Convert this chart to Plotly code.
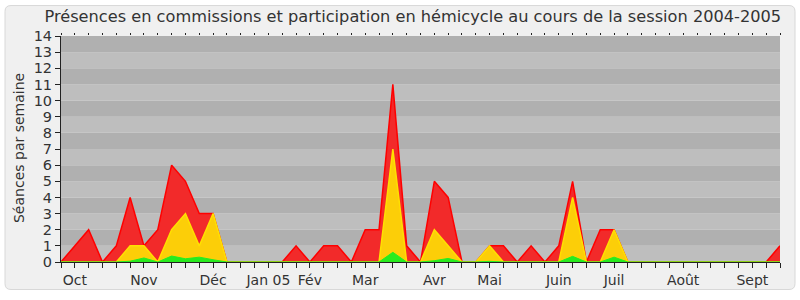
import plotly.graph_objects as go

weeks = list(range(53))
commission = [0, 1, 2, 0, 1, 4, 1, 2, 6, 5, 3, 3, 0, 0, 0, 0, 0, 1, 0, 1, 1, 0, 2, 2, 11, 1,
              0, 5, 4, 0, 0, 1, 1, 0, 1, 0, 1, 5, 0, 2, 2, 0, 0, 0, 0, 0, 0, 0, 0, 0, 0, 0, 1]
hemicycle = [0, 0, 0, 0, 0, 1, 1, 0, 2, 3, 1, 3, 0, 0, 0, 0, 0, 0, 0, 0, 0, 0, 0, 0, 7, 0,
             0, 2, 1, 0, 0, 1, 0, 0, 0, 0, 0, 4, 0, 0, 2, 0, 0, 0, 0, 0, 0, 0, 0, 0, 0, 0, 0]
interventions = [0, 0, 0, 0, 0, 0.05, 0.25, 0, 0.37, 0.2, 0.3, 0.14, 0, 0, 0, 0, 0, 0, 0, 0, 0, 0, 0, 0, 0.6, 0,
                 0, 0.08, 0.22, 0, 0, 0.04, 0, 0, 0, 0, 0, 0.35, 0, 0, 0.3, 0, 0, 0, 0, 0, 0, 0, 0, 0, 0, 0, 0]
month_pos = [1, 6, 11, 15, 18, 22, 27, 31, 36, 40, 45, 50]
month_labels = ["Oct", "Nov", "Déc", "Jan 05", "Fév", "Mar", "Avr", "Mai", "Juin", "Juil", "Août", "Sept"]
y_ticks = list(range(15))

ticktext = []
for w in weeks:
    ticktext.append(month_labels[month_pos.index(w)] if w in month_pos else "")

FONT = "DejaVu Sans"
TXT = "#333333"

fig = go.Figure()
fig.add_trace(go.Scatter(x=weeks, y=commission, mode="lines", fill="tozeroy",
                         line=dict(color="#ff0000", width=1.5), fillcolor="rgb(242,42,42)",
                         hoverinfo="skip"))
fig.add_trace(go.Scatter(x=weeks, y=hemicycle, mode="lines", fill="tozeroy",
                         line=dict(color="#ffe000", width=1.5), fillcolor="rgb(252,206,8)",
                         hoverinfo="skip"))
fig.add_trace(go.Scatter(x=weeks, y=interventions, mode="lines", fill="tozeroy",
                         line=dict(color="#22ee22", width=1), fillcolor="rgb(40,235,30)",
                         hoverinfo="skip"))
fig.add_trace(go.Scatter(x=[0], y=[0], xaxis="x2", mode="markers",
                         marker=dict(opacity=0), hoverinfo="skip"))

L, R, T, B = 61, 780, 36, 266
W, H = 800, 300
def px(xp):
    return (xp - L) / (R - L)
def py(yp):
    return (B - yp) / (B - T)

shapes = []
x0, x1, y0, y1, r = 5, 795, 5, 294, 6
path = (f"M {px(x0+r)},{py(y0)} L {px(x1-r)},{py(y0)} Q {px(x1)},{py(y0)} {px(x1)},{py(y0+r)} "
        f"L {px(x1)},{py(y1-r)} Q {px(x1)},{py(y1)} {px(x1-r)},{py(y1)} "
        f"L {px(x0+r)},{py(y1)} Q {px(x0)},{py(y1)} {px(x0)},{py(y1-r)} "
        f"L {px(x0)},{py(y0+r)} Q {px(x0)},{py(y0)} {px(x0+r)},{py(y0)} Z")
shapes.append(dict(type="path", path=path, xref="paper", yref="paper",
                   fillcolor="#f0f0f0", line=dict(color="#d8d8d8", width=1), layer="below"))
for k in range(14):
    shapes.append(dict(type="rect", xref="x", yref="y", x0=0, x1=52, y0=k, y1=k + 1,
                       fillcolor="#b0b0b0" if k % 2 else "#bebebe", line=dict(width=0), layer="below"))

fig.update_layout(
    width=W, height=H,
    margin=dict(l=L, r=W - R, t=T, b=H - B),
    paper_bgcolor="#ffffff", plot_bgcolor="#bebebe",
    showlegend=False,
    font=dict(family=FONT, size=14, color=TXT),
    title=dict(text="Présences en commissions et participation en hémicycle au cours de la session 2004-2005",
               x=0.516, xanchor="center", y=1 - 16 / H, yanchor="middle",
               font=dict(family=FONT, size=16.2, color=TXT)),
    xaxis=dict(range=[0, 52], tickmode="array", tickvals=weeks, ticktext=ticktext,
               ticks="outside", ticklen=5, tickcolor="#222222", showgrid=False, zeroline=False,
               showline=True, linecolor="#222222", linewidth=1,
               tickfont=dict(family=FONT, size=14, color=TXT)),
    xaxis2=dict(range=[0, 52], overlaying="x", side="top", anchor="y", tickmode="array",
                tickvals=weeks, ticks="outside", ticklen=2, tickcolor="#222222",
                showticklabels=False, showgrid=False, zeroline=False, showline=False),
    yaxis=dict(range=[0, 14], tickmode="array", tickvals=y_ticks,
               ticks="outside", ticklen=5, tickcolor="#222222", showgrid=False, zeroline=False,
               showline=True, linecolor="#222222", linewidth=1,
               tickfont=dict(family=FONT, size=14.5, color=TXT)),
    shapes=shapes,
    annotations=[dict(text="Séances par semaine", xref="paper", yref="paper",
                      x=px(19), y=py(150), xanchor="center", yanchor="middle",
                      textangle=-90, showarrow=False,
                      font=dict(family=FONT, size=14, color=TXT))],
)

fig.write_html("out.html")
